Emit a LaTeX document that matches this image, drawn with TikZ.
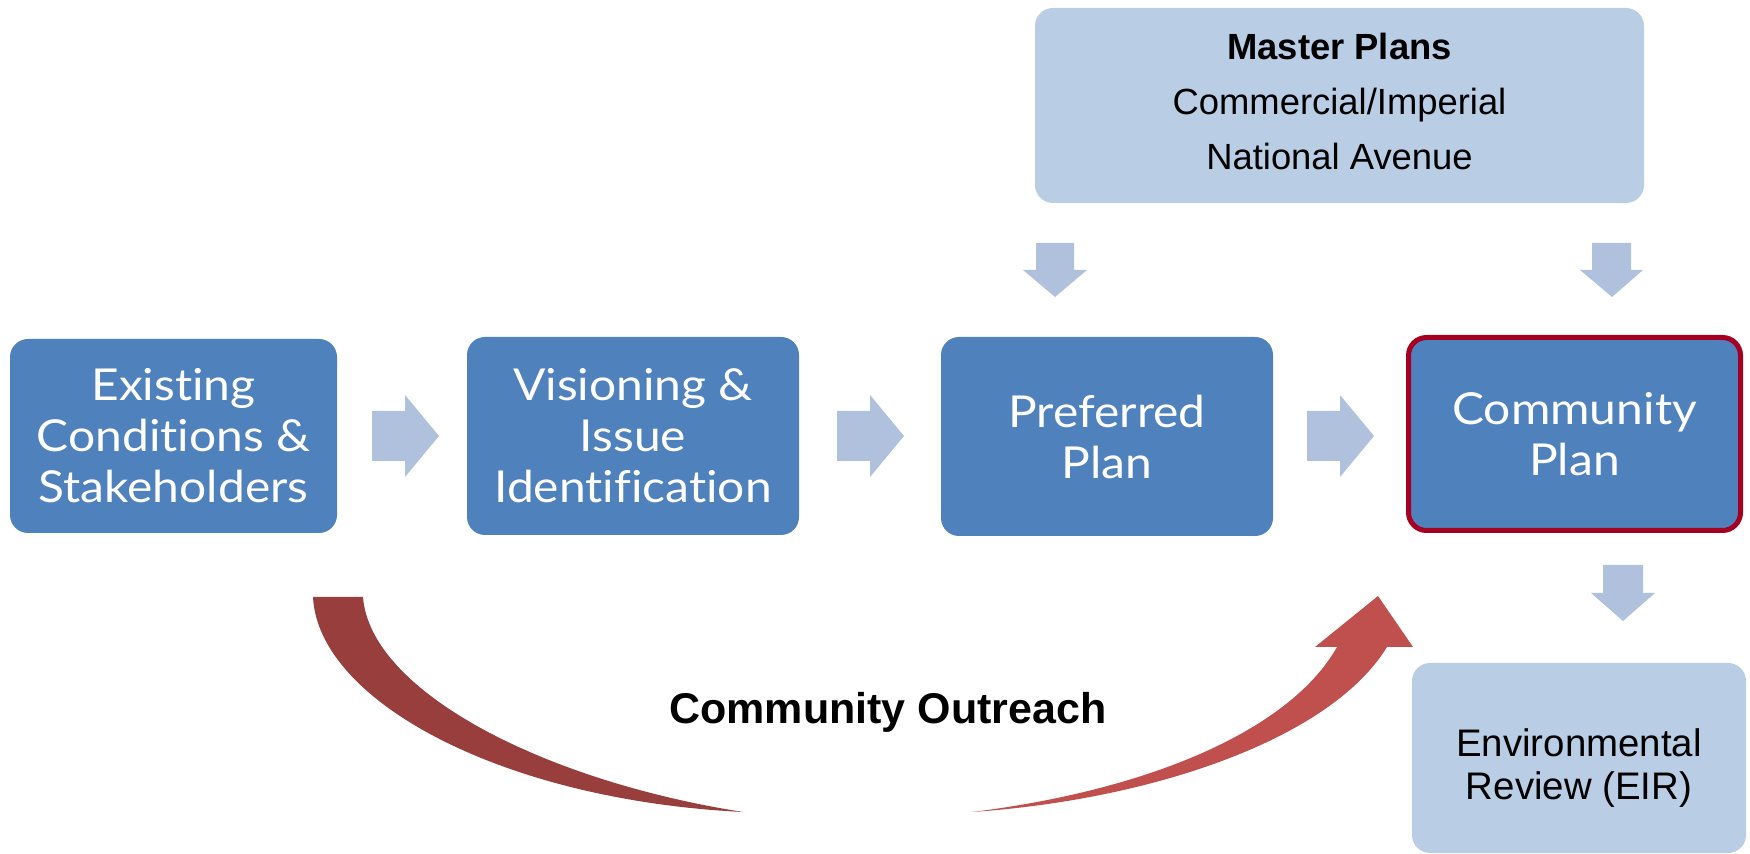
\documentclass[tikz,border=0pt]{standalone}
\usepackage{fontspec}
\setmainfont{Liberation Sans}
\newfontfamily\boxfont[FakeStretch=1.09,Ligatures=NoCommon]{Lato}
\definecolor{boxblue}{HTML}{4F81BD}
\definecolor{lightblue}{HTML}{B9CDE5}
\definecolor{arrowblue}{HTML}{B0C1DD}
\definecolor{darkred}{HTML}{983F3D}
\definecolor{midred}{HTML}{C0504D}
\definecolor{borderred}{HTML}{A50021}
\begin{document}
\begin{tikzpicture}[x=0.5pt,y=-0.5pt,
  darkbox/.style={rectangle, rounded corners=9pt, fill=boxblue, text=white,
    font=\boxfont\fontsize{22}{25.5}\selectfont, align=center, inner sep=0pt},
  lightbox/.style={rectangle, rounded corners=9pt, fill=lightblue, text=black,
    align=center, inner sep=0pt},
  blockarrow/.style={fill=arrowblue},
]
\useasboundingbox (0,0) rectangle (1750,854);

% main process boxes
\node[darkbox, minimum width=163.5pt, minimum height=97pt] (b1) at (173.5,436)
  {Existing\\Conditions \&\\Stakeholders};
\node[darkbox, minimum width=166pt, minimum height=99pt] (b2) at (633,436)
  {Visioning \&\\Issue\\Identification};
\node[darkbox, minimum width=166pt, minimum height=99.5pt] (b3) at (1107,436.5)
  {Preferred\\Plan};
\node[darkbox, draw=borderred, line width=2.5pt, minimum width=166pt, minimum height=96.5pt] (b4) at (1574.5,434)
  {Community\\Plan};

% master plans
\node[lightbox, minimum width=304.5pt, minimum height=97.5pt] (mp) at (1339.5,105.5) {};
\node[font=\fontsize{18.2}{27.5}\selectfont, align=center, inner sep=0pt] (mpt) at (1339.5,101.5)
  {\textbf{Master Plans}\\Commercial/Imperial\\National Avenue};

% environmental review
\node[lightbox, minimum width=167pt, minimum height=95pt] (eir) at (1579,758) {};
\node[font=\fontsize{19.2}{21.5}\selectfont, align=center, inner sep=0pt] (eirt) at (1579,768)
  {Environmental\\Review (EIR)};

% outreach label
\node[font=\bfseries\fontsize{21.5}{24}\selectfont, inner sep=0pt] (out) at (888,712) {Community Outreach};

% horizontal block arrows
\foreach \x in {372,837,1307}{
  \fill[blockarrow] (\x,411) -- (\x+33,411) -- (\x+33,395) -- (\x+67,436)
    -- (\x+33,477) -- (\x+33,461) -- (\x,461) -- cycle;
}
% down block arrows from master plans
\fill[blockarrow] (1036,243) -- (1074,243) -- (1074,270) -- (1087,270) -- (1055,297)
  -- (1023,270) -- (1036,270) -- cycle;
\fill[blockarrow] (1592,243) -- (1631,243) -- (1631,270) -- (1643,270) -- (1612,297)
  -- (1580,270) -- (1592,270) -- cycle;
% down block arrow to EIR
\fill[blockarrow] (1603,565) -- (1643,565) -- (1643,593) -- (1655,593) -- (1623,621)
  -- (1591,593) -- (1603,593) -- cycle;

% left curved band
\fill[darkred] (313,597) .. controls (318,700) and (500,800) .. (743,812)
  .. controls (540,780) and (370,690) .. (363,597) -- cycle;
% right curved arrow
\fill[midred] (972,812) .. controls (1150,790) and (1290,730) .. (1337,647)
  -- (1315,647) -- (1378,596) -- (1413,647) -- (1387,647)
  .. controls (1330,740) and (1150,800) .. (972,812) -- cycle;
\end{tikzpicture}
\end{document}
